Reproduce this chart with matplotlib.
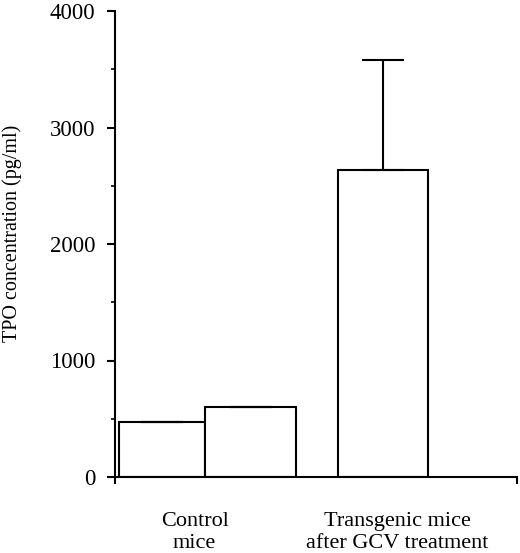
import numpy as np
import matplotlib
matplotlib.use("Agg")
import matplotlib.pyplot as plt
from matplotlib.ticker import MultipleLocator

# values (pg/ml)
groups = ["Control\nmice", "Transgenic mice\nafter GCV treatment"]
tpo = [475, 598, 2635]
tpo_err_up = [0, 0, 945]

plt.rcParams['font.family'] = ['Liberation Serif', 'DejaVu Serif']

fig = plt.figure(figsize=(5.2, 5.53), dpi=100)
ax = fig.add_axes([115/520, 76/553, 402/520, 466/553])

# bar positions in "bar units" (1 unit ~ 90 px)
xpos = np.array([0.522, 1.506, 2.978])
widths = np.array([0.96, 1.01, 1.01])
ax.bar(xpos, tpo, width=widths, color='white', edgecolor='black', linewidth=1.5)
ax.errorbar(xpos, tpo, yerr=[np.zeros(3), tpo_err_up], fmt='none', ecolor='black',
            elinewidth=1.5, capsize=15, capthick=1.5)

ax.set_xlim(0, 4.467)
ax.set_ylim(0, 4000)
ax.spines['top'].set_visible(False)
ax.spines['right'].set_visible(False)
for s in ['left', 'bottom']:
    ax.spines[s].set_linewidth(1.5)

ax.yaxis.set_major_locator(MultipleLocator(1000))
ax.yaxis.set_minor_locator(MultipleLocator(500))
ax.tick_params(axis='y', which='major', length=6, width=1.5, labelsize=16.5, pad=8)
ax.tick_params(axis='y', which='minor', length=3, width=1.2)
ax.set_xticks([0, 4.467])
ax.set_xticklabels([])
ax.tick_params(axis='x', length=5, width=1.5)

fig.text(12/520, 1 - 233/553, "TPO concentration (pg/ml)", rotation=90,
         ha='center', va='center', fontsize=14.5)

# category labels under the groups
label_x = [0.885, 3.14]
for lx, g in zip(label_x, groups):
    ax.text(lx, -0.075, g, transform=ax.get_xaxis_transform(), ha='center', va='top',
            fontsize=16, linespacing=1.2)

fig.savefig("out.png", dpi=100)
